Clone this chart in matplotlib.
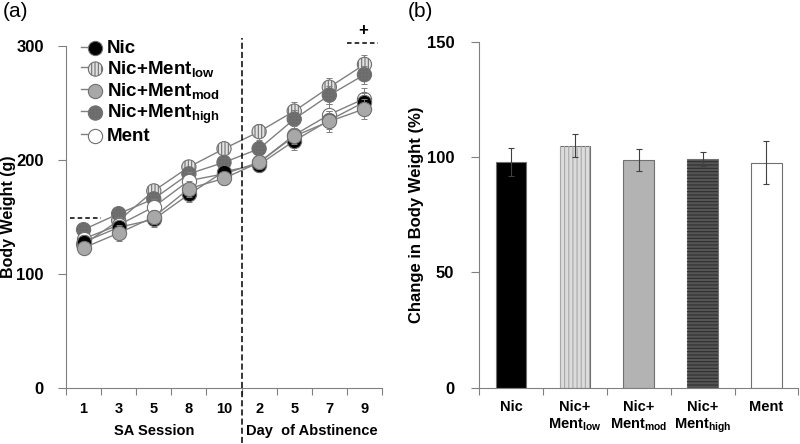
import numpy as np
import matplotlib
matplotlib.use("Agg")
import matplotlib.pyplot as plt
from matplotlib.legend_handler import HandlerTuple

plt.rcParams['font.family'] = ['Liberation Sans', 'DejaVu Sans']
plt.rcParams['font.weight'] = 'bold'
plt.rcParams['axes.labelweight'] = 'bold'
plt.rcParams['mathtext.fontset'] = 'custom'
plt.rcParams['mathtext.rm'] = 'Liberation Sans:bold'
plt.rcParams['mathtext.it'] = 'Liberation Sans:bold'
plt.rcParams['mathtext.bf'] = 'Liberation Sans:bold'
plt.rcParams['hatch.linewidth'] = 0.8

# x categories (panel a)
x_labels = ['1', '3', '5', '8', '10', '2', '5', '7', '9']

# body weight (g) per group
nic = [128, 141, 148, 170, 190, 196, 217, 235, 251]
low = [126, 147, 173, 194, 210, 225, 243, 264, 284]
mod = [123, 136, 150, 175, 184, 198, 221, 234, 245]
high = [139, 153, 166, 188, 198, 210, 236, 257, 275]
ment = [131, 143, 159, 182, 188, 198, 222, 240, 254]

nic_err = [6, 6, 7, 7, 5, 6, 8, 8, 8]
low_err = [5, 6, 6, 6, 6, 7, 8, 8, 8]
mod_err = [5, 7, 6, 7, 6, 6, 7, 9, 9]
high_err = [5, 6, 6, 6, 6, 7, 8, 8, 8]
ment_err = [6, 7, 7, 8, 6, 6, 8, 9, 9]

# panel b
bar_labels = ['Nic', 'Nic+\nMent$_{\\mathrm{low}}$', 'Nic+\nMent$_{\\mathrm{mod}}$',
              'Nic+\nMent$_{\\mathrm{high}}$', 'Ment']
bar_vals = [98, 105, 98.7, 99.4, 97.7]
bar_err = [6, 5, 4.8, 3, 9.5]

fig = plt.figure(figsize=(8, 4.44), dpi=100)
ax = fig.add_axes([0.0825, 0.126, 0.395, 0.770])
ax2 = fig.add_axes([0.599, 0.127, 0.399, 0.778])

x = np.arange(len(x_labels))
line_col = '#808080'

series = [
    ('Nic+Ment$_{\\mathrm{low}}$', low, low_err, '#e2e2e2', '|||||'),
    ('Nic+Ment$_{\\mathrm{high}}$', high, high_err, '#6a6a6a', '+++++'),
    ('Ment', ment, ment_err, 'white', None),
    ('Nic', nic, nic_err, 'black', None),
    ('Nic+Ment$_{\\mathrm{mod}}$', mod, mod_err, '#a8a8a8', None),
]
handles = {}
for i, (name, y, e, fc, h) in enumerate(series):
    ax.errorbar(x, y, yerr=e, fmt='none', ecolor='#808080', elinewidth=0.7,
                capsize=2, capthick=0.7, zorder=2 + i * 2)
    ln, = ax.plot(x, y, color=line_col, lw=1, zorder=2 + i * 2)
    sc = ax.scatter(x, y, s=105, facecolor=fc, edgecolor='#707070',
                    linewidth=0.8, hatch=h, zorder=3 + i * 2)
    handles[name] = (ln, sc)

order = ['Nic', 'Nic+Ment$_{\\mathrm{low}}$', 'Nic+Ment$_{\\mathrm{mod}}$',
         'Nic+Ment$_{\\mathrm{high}}$', 'Ment']
ax.legend([handles[n] for n in order], order,
          handler_map={tuple: HandlerTuple(ndivide=None, pad=0)},
          loc='upper left', bbox_to_anchor=(0.025, 1.04), frameon=False,
          handlelength=1.0, handletextpad=0.35, labelspacing=0.1,
          prop={'size': 13.5, 'weight': 'bold'}, borderaxespad=0)

ax.set_xlim(-0.5, 8.5)
ax.set_ylim(0, 300)
ax.set_yticks([0, 100, 200, 300])
ax.set_xticks(np.arange(-0.5, 9, 1))
ax.set_xticklabels([])
ax.set_xticks(x, minor=True)
ax.set_xticklabels(x_labels, minor=True, fontsize=10.5)
ax.tick_params(axis='x', which='minor', length=0, pad=10)
ax.tick_params(axis='x', which='major', length=5, color='#808080', direction='out')
ax.tick_params(axis='y', labelsize=12, length=6, color='#808080', pad=10)
for s in ['top', 'right']:
    ax.spines[s].set_visible(False)
for s in ['left', 'bottom']:
    ax.spines[s].set_color('#808080')
ax.set_ylabel('Body Weight (g)', fontsize=11.5)
ax.yaxis.set_label_coords(-0.158, 0.5)

# dividing line between sessions and abstinence
ax.plot([4.5, 4.5], [-48, 307], color='black', lw=1.1, ls=(0, (4, 2)),
        clip_on=False, zorder=20)
ax.plot([-0.4, 0.5], [149, 149], color='black', lw=1.1, ls=(0, (3, 2)),
        clip_on=False)
ax.plot([7.5, 8.4], [303, 303], color='black', lw=1.1, ls=(0, (3, 2)),
        clip_on=False)
ax.text(7.95, 307, '+', ha='center', va='bottom', fontsize=12)
ax.text(2, -38, 'SA Session', ha='center', va='center', fontsize=10.5)
ax.text(6.5, -38, 'Day  of Abstinence', ha='center', va='center', fontsize=10.5)
fig.text(0.004, 0.975, '(a)', fontsize=15, weight='normal', va='center')

# panel b bars
xb = np.arange(len(bar_vals))
faces = ['black', '#dcdcdc', '#b3b3b3', '#555555', 'white']
hatches = [None, '||||', None, '-----', None]
hcols = [None, '#a8a8a8', None, '#2e2e2e', None]
ax2.bar(xb, bar_vals, width=0.48, color=faces, edgecolor='#707070', linewidth=0.8)
for i in range(len(xb)):
    if hatches[i]:
        ax2.bar(xb[i], bar_vals[i], width=0.48, fill=False, hatch=hatches[i],
                edgecolor=hcols[i], linewidth=0)
ax2.errorbar(xb, bar_vals, yerr=bar_err, fmt='none', ecolor='#404040',
             elinewidth=0.8, capsize=2, capthick=0.8)
ax2.set_xlim(-0.5, 4.5)
ax2.set_ylim(0, 150)
ax2.set_yticks([0, 50, 100, 150])
ax2.set_xticks(np.arange(-0.5, 5, 1))
ax2.set_xticklabels([])
ax2.set_xticks(xb, minor=True)
ax2.set_xticklabels(bar_labels, minor=True, fontsize=10.5, va='top')
ax2.tick_params(axis='x', which='minor', length=0, pad=9)
ax2.tick_params(axis='x', which='major', length=5, color='#808080')
ax2.tick_params(axis='y', labelsize=12, length=6, color='#808080', pad=12)
for s in ['top', 'right']:
    ax2.spines[s].set_visible(False)
for s in ['left', 'bottom']:
    ax2.spines[s].set_color('#808080')
ax2.set_ylabel('Change in Body Weight (%)', fontsize=12)
ax2.yaxis.set_label_coords(-0.172, 0.5)
fig.text(0.51, 0.975, '(b)', fontsize=15, weight='normal', va='center')

fig.savefig('out.png', dpi=100)
